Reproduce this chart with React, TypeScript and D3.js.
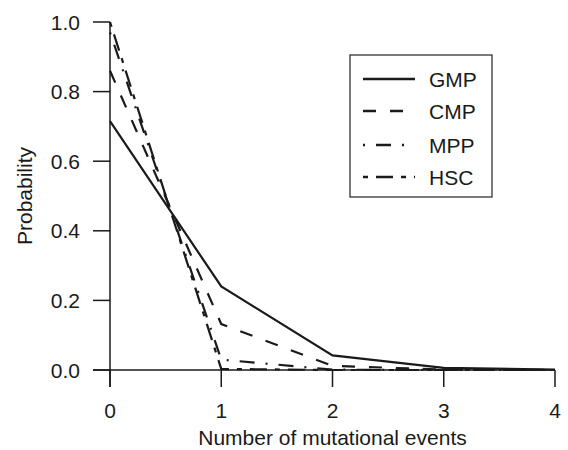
import React from "react";
import * as d3 from "d3";

const events = [0, 1, 2, 3, 4];
const gmp = [0.715, 0.24, 0.042, 0.006, 0.001];
const cmp = [0.86, 0.132, 0.012, 0.001, 0];
const mpp = [0.97, 0.03, 0.001, 0, 0];
const hsc = [1.0, 0.003, 0, 0, 0];
const seriesNames = ["GMP", "CMP", "MPP", "HSC"];
const xTicks = [0, 1, 2, 3, 4];
const yTicks = [0, 0.2, 0.4, 0.6, 0.8, 1.0];

const dashes = ["none", "13,14", "2,11,15,11", "5,8,17,8"];

export default function App() {
  const W = 568, H = 450;
  const x = d3.scaleLinear().domain([0, 4]).range([110, 555]);
  const y = d3.scaleLinear().domain([0, 1]).range([370, 22]);
  const line = d3.line<number>().x((_, i) => x(events[i])).y((d) => y(d));
  const all = [gmp, cmp, mpp, hsc];
  const font = "'Liberation Sans', Arial, Helvetica, sans-serif";
  const ink = "#1a1a1a";
  const fs = 21;
  const legendY = [79, 111, 145, 177];
  return (
    <svg width={W} height={H} style={{ position: "absolute", left: 0, top: 0, background: "#fff" }} fontFamily={font}>
      {/* axes */}
      <line x1={x(0)} x2={x(0)} y1={y(1)} y2={387} stroke={ink} strokeWidth={1.5} />
      <line x1={93} x2={x(4)} y1={y(0)} y2={y(0)} stroke={ink} strokeWidth={1.5} />
      {yTicks.map((t) => (
        <g key={"y" + t}>
          <line x1={93} x2={x(0)} y1={y(t)} y2={y(t)} stroke={ink} strokeWidth={1.5} />
          <text x={80} y={y(t)} dy="0.36em" textAnchor="end" fontSize={fs} fill={ink}>
            {t.toFixed(1)}
          </text>
        </g>
      ))}
      {xTicks.map((t) => (
        <g key={"x" + t}>
          <line x1={x(t)} x2={x(t)} y1={y(0)} y2={387} stroke={ink} strokeWidth={1.5} />
          <text x={x(t)} y={418} textAnchor="middle" fontSize={fs} fill={ink}>
            {t}
          </text>
        </g>
      ))}
      <text x={(x(0) + x(4)) / 2} y={445} textAnchor="middle" fontSize={fs} fill={ink}>
        Number of mutational events
      </text>
      <text transform={`translate(32,${(y(0) + y(1)) / 2}) rotate(-90)`} textAnchor="middle" fontSize={fs} fill={ink}>
        Probability
      </text>
      {/* series */}
      {all.map((s, i) => (
        <path key={seriesNames[i]} d={line(s) || ""} fill="none" stroke={ink} strokeWidth={2.2} strokeDasharray={dashes[i]} />
      ))}
      {/* legend */}
      <rect x={350} y={55} width={142} height={142} fill="#fff" stroke="#333" strokeWidth={1.3} />
      {seriesNames.map((n, i) => (
        <g key={"l" + n}>
          <line x1={363} x2={415} y1={legendY[i]} y2={legendY[i]} stroke={ink} strokeWidth={2.4} strokeDasharray={dashes[i]} />
          <text x={429} y={legendY[i]} dy="0.36em" fontSize={fs} fill={ink}>
            {n}
          </text>
        </g>
      ))}
    </svg>
  );
}
